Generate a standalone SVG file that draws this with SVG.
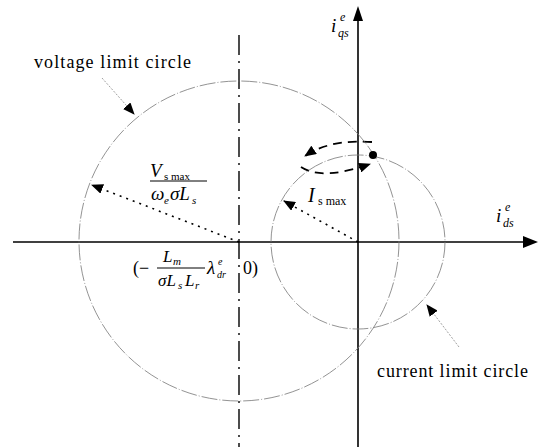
<svg xmlns="http://www.w3.org/2000/svg" width="539" height="447" viewBox="0 0 539 447">
<defs>
<style>
.axis{stroke:#000;stroke-width:1.6;fill:none}
.circ{stroke:#777;stroke-width:0.8;fill:none;stroke-dasharray:16 2 1 2}
.cline{stroke:#000;stroke-width:1.4;fill:none;stroke-dasharray:20 6 2 6}
.lead{stroke:#888;stroke-width:0.8;fill:none;stroke-dasharray:2 1.5}
.rad{stroke:#000;stroke-width:1.6;fill:none;stroke-dasharray:2 5}
.dash{stroke:#000;stroke-width:1.8;fill:none;stroke-dasharray:9 6}
.bar{stroke:#000;stroke-width:1}
</style>
<marker id="ah" viewBox="0 0 12 10" refX="11" refY="5" markerWidth="12" markerHeight="10" markerUnits="userSpaceOnUse" orient="auto">
<path d="M0,0 L12,5 L0,10 Z" fill="#000"/>
</marker>
</defs>
<rect width="539" height="447" fill="#fff"/>
<g id="connectors">
<line class="axis" x1="13" y1="242" x2="526" y2="242"/>
<path d="M523,236 L538,242 L523,248 Z" fill="#000"/>
<line class="axis" x1="358" y1="447" x2="358" y2="20"/>
<path d="M353,21 L358,6 L363,21 Z" fill="#000"/>
<line class="cline" x1="239" y1="35" x2="239" y2="447"/>
<path class="lead" d="M102,78 L134,114" marker-end="url(#ah)"/>
<path class="lead" d="M459,347 L427,305" marker-end="url(#ah)"/>
<path class="rad" d="M239,242 L92,185" marker-end="url(#ah)"/>
<path class="rad" d="M358,242 L284,201" marker-end="url(#ah)"/>
<path class="dash" d="M372,142 Q330,139 305,156" marker-end="url(#ah)"/>
<path class="dash" d="M301,167 Q322,181 370,164" marker-end="url(#ah)"/>
</g>
<g id="voltage-circle">
<circle class="circ" cx="239" cy="241" r="160"/>
</g>
<g id="current-circle">
<circle class="circ" cx="358" cy="242" r="87"/>
</g>
<g id="operating-point">
<circle cx="373" cy="155" r="4" fill="#000"/>
</g>
<g id="labels" font-family="Liberation Serif, Times New Roman, serif" fill="#000">
<text x="34" y="68" font-size="18" textLength="157" lengthAdjust="spacing">voltage limit circle</text>
<text x="377" y="377" font-size="18" textLength="151" lengthAdjust="spacing">current limit circle</text>
<g font-style="italic">
<text x="331" y="32" font-size="19">i</text>
<text x="340" y="21" font-size="12">e</text>
<text x="338" y="37" font-size="12">qs</text>
<text x="496" y="222" font-size="19">i</text>
<text x="505" y="211" font-size="12">e</text>
<text x="503" y="227" font-size="12">ds</text>
<text x="150" y="177" font-size="19">V</text>
<text x="151" y="200" font-size="19">ω</text>
<text x="164" y="204" font-size="11">e</text>
<text x="170" y="200" font-size="19">σL</text>
<text x="192" y="204" font-size="11">s</text>
<text x="308" y="202" font-size="20">I</text>
<text x="163" y="262" font-size="17">L</text>
<text x="173" y="265" font-size="11">m</text>
<text x="158" y="286" font-size="17">σL</text>
<text x="178" y="289" font-size="11">s</text>
<text x="185" y="286" font-size="17">L</text>
<text x="195" y="289" font-size="11">r</text>
<text x="207" y="274" font-size="19">λ</text>
<text x="218" y="265" font-size="10">e</text>
<text x="217" y="278" font-size="10">dr</text>
</g>
<text x="164" y="180" font-size="11">s max</text>
<line class="bar" x1="150" y1="181" x2="207" y2="181"/>
<text x="318" y="205" font-size="12">s max</text>
<line class="bar" x1="157" y1="268" x2="205" y2="268"/>
<text x="133" y="274" font-size="18">(−</text>
<text x="243" y="274" font-size="18">0)</text>
</g>
</svg>
